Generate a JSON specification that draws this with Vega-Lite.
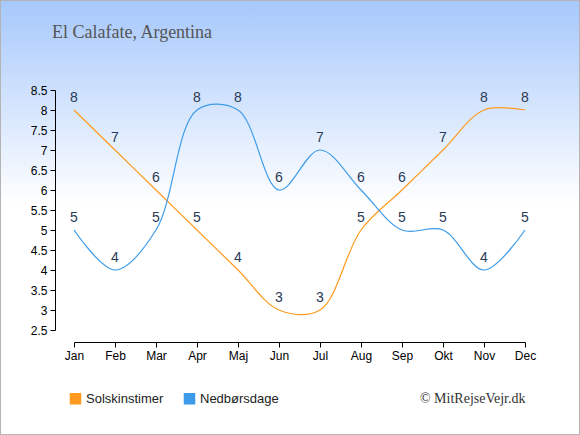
{
  "$schema": "https://vega.github.io/schema/vega-lite/v6.json",
  "width": 580,
  "height": 435,
  "autosize": {"type": "none"},
  "padding": 0,
  "background": "#ffffff",
  "title": {
    "text": "El Calafate, Argentina",
    "anchor": "start",
    "frame": "group",
    "orient": "top",
    "offset": -56,
    "dx": 52,
    "baseline": "alphabetic",
    "font": "Liberation Serif",
    "fontSize": 18,
    "fontWeight": "normal",
    "color": "#555555"
  },
  "config": {
    "view": {
      "fill": {
        "gradient": "linear",
        "x1": 0, "y1": 0, "x2": 0, "y2": 1,
        "stops": [
          {"offset": 0, "color": "#a6c8fc"},
          {"offset": 0.47, "color": "#ffffff"},
          {"offset": 1, "color": "#ffffff"}
        ]
      },
      "stroke": "#b4b4b4",
      "strokeWidth": 2
    },
    "axis": {
      "labelFont": "Liberation Sans",
      "labelFontSize": 12,
      "labelColor": "#000000",
      "domainColor": "#000000",
      "tickColor": "#000000",
      "grid": false
    }
  },
  "data": {
    "values": [
      {"month": "Jan", "series": "Solskinstimer", "value": 8},
      {"month": "Feb", "series": "Solskinstimer", "value": 7},
      {"month": "Mar", "series": "Solskinstimer", "value": 6},
      {"month": "Apr", "series": "Solskinstimer", "value": 5},
      {"month": "Maj", "series": "Solskinstimer", "value": 4},
      {"month": "Jun", "series": "Solskinstimer", "value": 3},
      {"month": "Jul", "series": "Solskinstimer", "value": 3},
      {"month": "Aug", "series": "Solskinstimer", "value": 5},
      {"month": "Sep", "series": "Solskinstimer", "value": 6},
      {"month": "Okt", "series": "Solskinstimer", "value": 7},
      {"month": "Nov", "series": "Solskinstimer", "value": 8},
      {"month": "Dec", "series": "Solskinstimer", "value": 8},
      {"month": "Jan", "series": "Nedbørsdage", "value": 5},
      {"month": "Feb", "series": "Nedbørsdage", "value": 4},
      {"month": "Mar", "series": "Nedbørsdage", "value": 5},
      {"month": "Apr", "series": "Nedbørsdage", "value": 8},
      {"month": "Maj", "series": "Nedbørsdage", "value": 8},
      {"month": "Jun", "series": "Nedbørsdage", "value": 6},
      {"month": "Jul", "series": "Nedbørsdage", "value": 7},
      {"month": "Aug", "series": "Nedbørsdage", "value": 6},
      {"month": "Sep", "series": "Nedbørsdage", "value": 5},
      {"month": "Okt", "series": "Nedbørsdage", "value": 5},
      {"month": "Nov", "series": "Nedbørsdage", "value": 4},
      {"month": "Dec", "series": "Nedbørsdage", "value": 5}
    ]
  },
  "encoding": {
    "x": {
      "field": "month",
      "type": "ordinal",
      "sort": ["Jan", "Feb", "Mar", "Apr", "Maj", "Jun", "Jul", "Aug", "Sep", "Okt", "Nov", "Dec"],
      "scale": {"type": "point", "padding": 0, "range": [74, 525]},
      "axis": {
        "orient": "bottom",
        "offset": -93,
        "labelAngle": 0,
        "tickSize": 5,
        "labelPadding": 3,
        "title": "© MitRejseVejr.dk",
        "titleAnchor": "end",
        "titleAlign": "right",
        "titleFont": "Liberation Serif",
        "titleFontSize": 14,
        "titleFontWeight": "normal",
        "titleColor": "#333333",
        "titlePadding": 30
      }
    },
    "y": {
      "field": "value",
      "type": "quantitative",
      "scale": {"domain": [2.5, 8.5], "range": [330, 90], "nice": false, "zero": false},
      "axis": {
        "orient": "left",
        "offset": -55,
        "values": [2.5, 3, 3.5, 4, 4.5, 5, 5.5, 6, 6.5, 7, 7.5, 8, 8.5],
        "format": "~g",
        "tickSize": 5,
        "labelPadding": 3,
        "title": null
      }
    },
    "color": {
      "field": "series",
      "type": "nominal",
      "sort": ["Solskinstimer", "Nedbørsdage"],
      "scale": {"domain": ["Solskinstimer", "Nedbørsdage"], "range": ["#ff9a1f", "#3d9be9"]},
      "legend": {
        "orient": "none",
        "legendX": 69,
        "legendY": 392,
        "direction": "horizontal",
        "title": null,
        "symbolType": "square",
        "symbolSize": 100,
        "symbolOpacity": 1,
        "labelFont": "Liberation Sans",
        "labelFontSize": 13,
        "labelColor": "#222222",
        "labelOffset": 4,
        "columnPadding": 17,
        "encode": {
          "symbols": {
            "update": {
              "fill": {"scale": "color", "field": "value"},
              "stroke": {"value": "transparent"},
              "opacity": {"value": 1}
            }
          }
        }
      }
    }
  },
  "layer": [
    {
      "mark": {"type": "line", "interpolate": "catmull-rom", "strokeWidth": 1.2, "clip": false}
    },
    {
      "mark": {"type": "text", "baseline": "alphabetic", "dy": -8, "font": "Liberation Sans", "fontSize": 14, "color": "#2a3a57"},
      "encoding": {
        "text": {"field": "value", "type": "quantitative"},
        "color": {"value": "#2a3a57"}
      }
    }
  ]
}
